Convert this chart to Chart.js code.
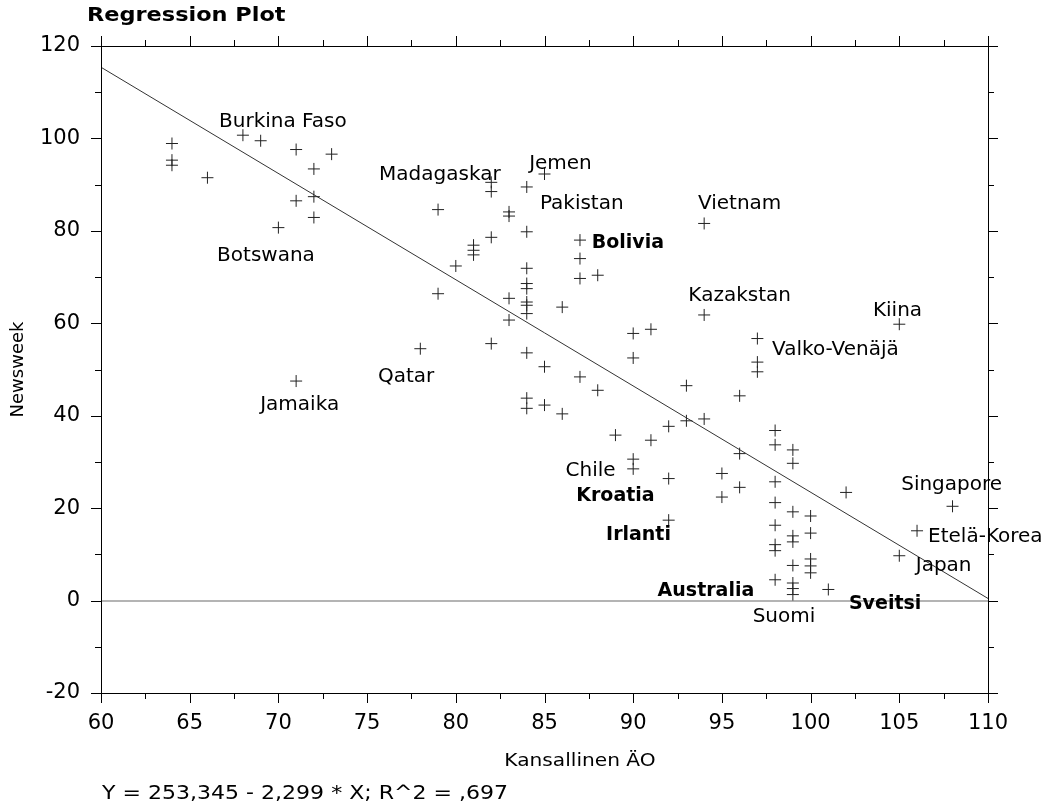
<!DOCTYPE html>
<html>
<head>
<meta charset="utf-8">
<script src="https://cdn.jsdelivr.net/npm/chart.js@4"></script>
<style>
  html, body { margin: 0; padding: 0; background: #fff; }
</style>
</head>
<body>
<canvas id="plot" width="1055" height="806"></canvas>
<script>
// data (x = national IQ, y = Newsweek score)
const iq = [
  64, 64, 64, 66, 68, 69, 70, 71, 71, 71, 72, 72, 72, 73,
  78, 79, 79, 80, 81, 81, 81, 82, 82, 82, 82,
  83, 83, 83, 83,
  84, 84, 84, 84, 84, 84, 84, 84, 84, 84, 84,
  85, 85, 85, 86, 86, 87, 87, 87, 87, 88, 88, 89,
  90, 90, 90, 90, 91, 91, 92, 92, 92, 93, 93, 94, 94, 94,
  95, 95, 96, 96, 96, 97, 97, 97,
  98, 98, 98, 98, 98, 98, 98, 98,
  99, 99, 99, 99, 99, 99, 99, 99, 99,
  100, 100, 100, 100, 100, 101, 102, 105, 105, 106, 108
];
const newsweek = [
  98.9, 95.3, 94.2, 91.5, 100.7, 99.5, 80.7, 97.6, 86.5, 47.5, 93.4, 87.4, 82.9, 96.6,
  54.5, 84.6, 66.4, 72.4, 76.9, 75.8, 74.8, 90.5, 88.5, 78.6, 55.6,
  84.1, 83.2, 65.4, 60.7,
  89.5, 79.8, 71.9, 68.6, 67.5, 64.6, 63.9, 62.1, 53.6, 43.8, 41.6,
  92.3, 50.6, 42.3, 63.5, 40.4, 78.0, 74.0, 69.7, 48.4, 70.4, 45.5, 35.8,
  57.8, 52.5, 30.6, 28.5, 58.7, 34.7, 37.7, 26.4, 17.4, 46.5, 38.9, 81.6, 61.8, 39.3,
  27.5, 22.4, 44.3, 31.8, 24.5, 56.7, 51.6, 49.5,
  36.8, 33.7, 25.7, 21.2, 16.3, 12.1, 10.8, 4.5,
  32.6, 29.7, 19.2, 14.0, 12.7, 7.6, 3.8, 2.6, 1.3,
  18.3, 14.6, 9.0, 7.5, 6.0, 2.4, 23.4, 59.8, 9.7, 15.1, 20.4
];

// country labels, placed in data units
const countryNames = ["Burkina Faso", "Botswana", "Madagaskar", "Jemen", "Pakistan", "Bolivia",
  "Vietnam", "Kazakstan", "Kiina", "Valko-Venäjä", "Qatar", "Jamaika", "Chile", "Kroatia",
  "Irlanti", "Australia", "Suomi", "Sveitsi", "Singapore", "Etelä-Korea", "Japan"];
const labelX = [70.25, 69.3, 79.1, 85.9, 87.1, 89.7, 96.0, 96.0, 104.9, 101.4, 77.2, 71.2,
  87.6, 89.0, 90.3, 94.1, 98.5, 104.2, 107.95, 109.85, 107.5];
const labelY = [103.5, 74.5, 92.1, 94.6, 85.9, 77.3, 85.8, 65.9, 62.7, 54.2, 48.5, 42.3,
  28.1, 22.6, 14.1, 2.1, -3.5, -0.8, 25.0, 13.8, 7.6];
const boldLabels = ["Bolivia", "Kroatia", "Irlanti", "Australia", "Sveitsi"];

// regression from the footer
const intercept = 253.345;
const slope = -2.299;
const fitX = [60, 110];

const xMin = 60, xMax = 110, yMin = -20, yMax = 120;
const fontName = "'DejaVu Sans', sans-serif";

const points = iq.map((x, i) => ({ x: x, y: newsweek[i] }));
const fitLine = fitX.map(x => ({ x: x, y: intercept + slope * x }));

// text a little wider than the font, like the original export
function wideText(c, text, x, y, sx) {
  c.save();
  c.translate(x, y);
  c.scale(sx, 1);
  c.fillText(text, 0, 0);
  c.restore();
}

// box, outward ticks, labels, title and footer
const frame = {
  id: 'frame',
  afterDraw(chart) {
    const c = chart.ctx;
    const a = chart.chartArea;
    const xs = chart.scales.x, ys = chart.scales.y;
    c.save();
    c.strokeStyle = '#000';
    c.lineWidth = 1;
    c.strokeRect(a.left + 0.5, a.top + 0.5, a.right - a.left, a.bottom - a.top);

    c.beginPath();
    for (let v = xMin; v <= xMax; v += 2.5) {
      const px = Math.round(xs.getPixelForValue(v)) + 0.5;
      const len = v % 5 === 0 ? 10 : 6;
      c.moveTo(px, a.bottom); c.lineTo(px, a.bottom + len);
      c.moveTo(px, a.top); c.lineTo(px, a.top - len);
    }
    for (let v = yMin; v <= yMax; v += 10) {
      const py = Math.round(ys.getPixelForValue(v)) + 0.5;
      const len = v % 20 === 0 ? 10 : 6;
      c.moveTo(a.left, py); c.lineTo(a.left - len, py);
      c.moveTo(a.right, py); c.lineTo(a.right + len, py);
    }
    c.stroke();

    c.fillStyle = '#000';
    c.textAlign = 'center';
    c.textBaseline = 'middle';
    countryNames.forEach((name, i) => {
      const bold = boldLabels.includes(name);
      c.font = (bold ? 'bold 19px ' : '20px ') + fontName;
      c.fillText(name, xs.getPixelForValue(labelX[i]), ys.getPixelForValue(labelY[i]));
    });

    c.font = '18px ' + fontName;
    wideText(c, 'Kansallinen ÄO', 580, 761, 1.12);

    c.textAlign = 'left';
    c.font = 'bold 19px ' + fontName;
    wideText(c, 'Regression Plot', 87, 16, 1.18);
    c.font = '19px ' + fontName;
    wideText(c, 'Y = 253,345 - 2,299 * X; R^2 = ,697', 102, 794, 1.16);
    c.restore();
  }
};

new Chart(document.getElementById('plot'), {
  type: 'scatter',
  data: {
    datasets: [
      {
        data: points,
        pointStyle: 'cross',
        pointRadius: 6,
        borderColor: '#222',
        borderWidth: 1,
      },
      {
        type: 'line',
        data: fitLine,
        borderColor: '#333',
        borderWidth: 1,
        pointRadius: 0,
        fill: false,
      },
    ],
  },
  options: {
    responsive: false,
    animation: false,
    layout: { padding: { top: 46, right: 67, bottom: 0, left: 0 } },
    plugins: {
      legend: { display: false },
      tooltip: { enabled: false },
    },
    scales: {
      x: {
        type: 'linear',
        min: xMin,
        max: xMax,
        afterFit: s => { s.height = 113; },
        ticks: { stepSize: 5, padding: 18, color: '#000', font: { family: fontName, size: 21 } },
        grid: { display: false, drawTicks: false },
        border: { display: false },
      },
      y: {
        min: yMin,
        max: yMax,
        afterFit: s => { s.width = 101; },
        ticks: { stepSize: 20, padding: 21, color: '#000', font: { family: fontName, size: 21 } },
        grid: {
          drawTicks: false,
          lineWidth: 2,
          color: ctx => ctx.tick && ctx.tick.value === 0 ? '#b4b4b4' : 'rgba(0,0,0,0)',
        },
        border: { display: false },
        title: { display: true, text: 'Newsweek', color: '#000', font: { family: fontName, size: 18 }, padding: { top: 8 } },
      },
    },
  },
  plugins: [frame],
});
</script>
</body>
</html>
